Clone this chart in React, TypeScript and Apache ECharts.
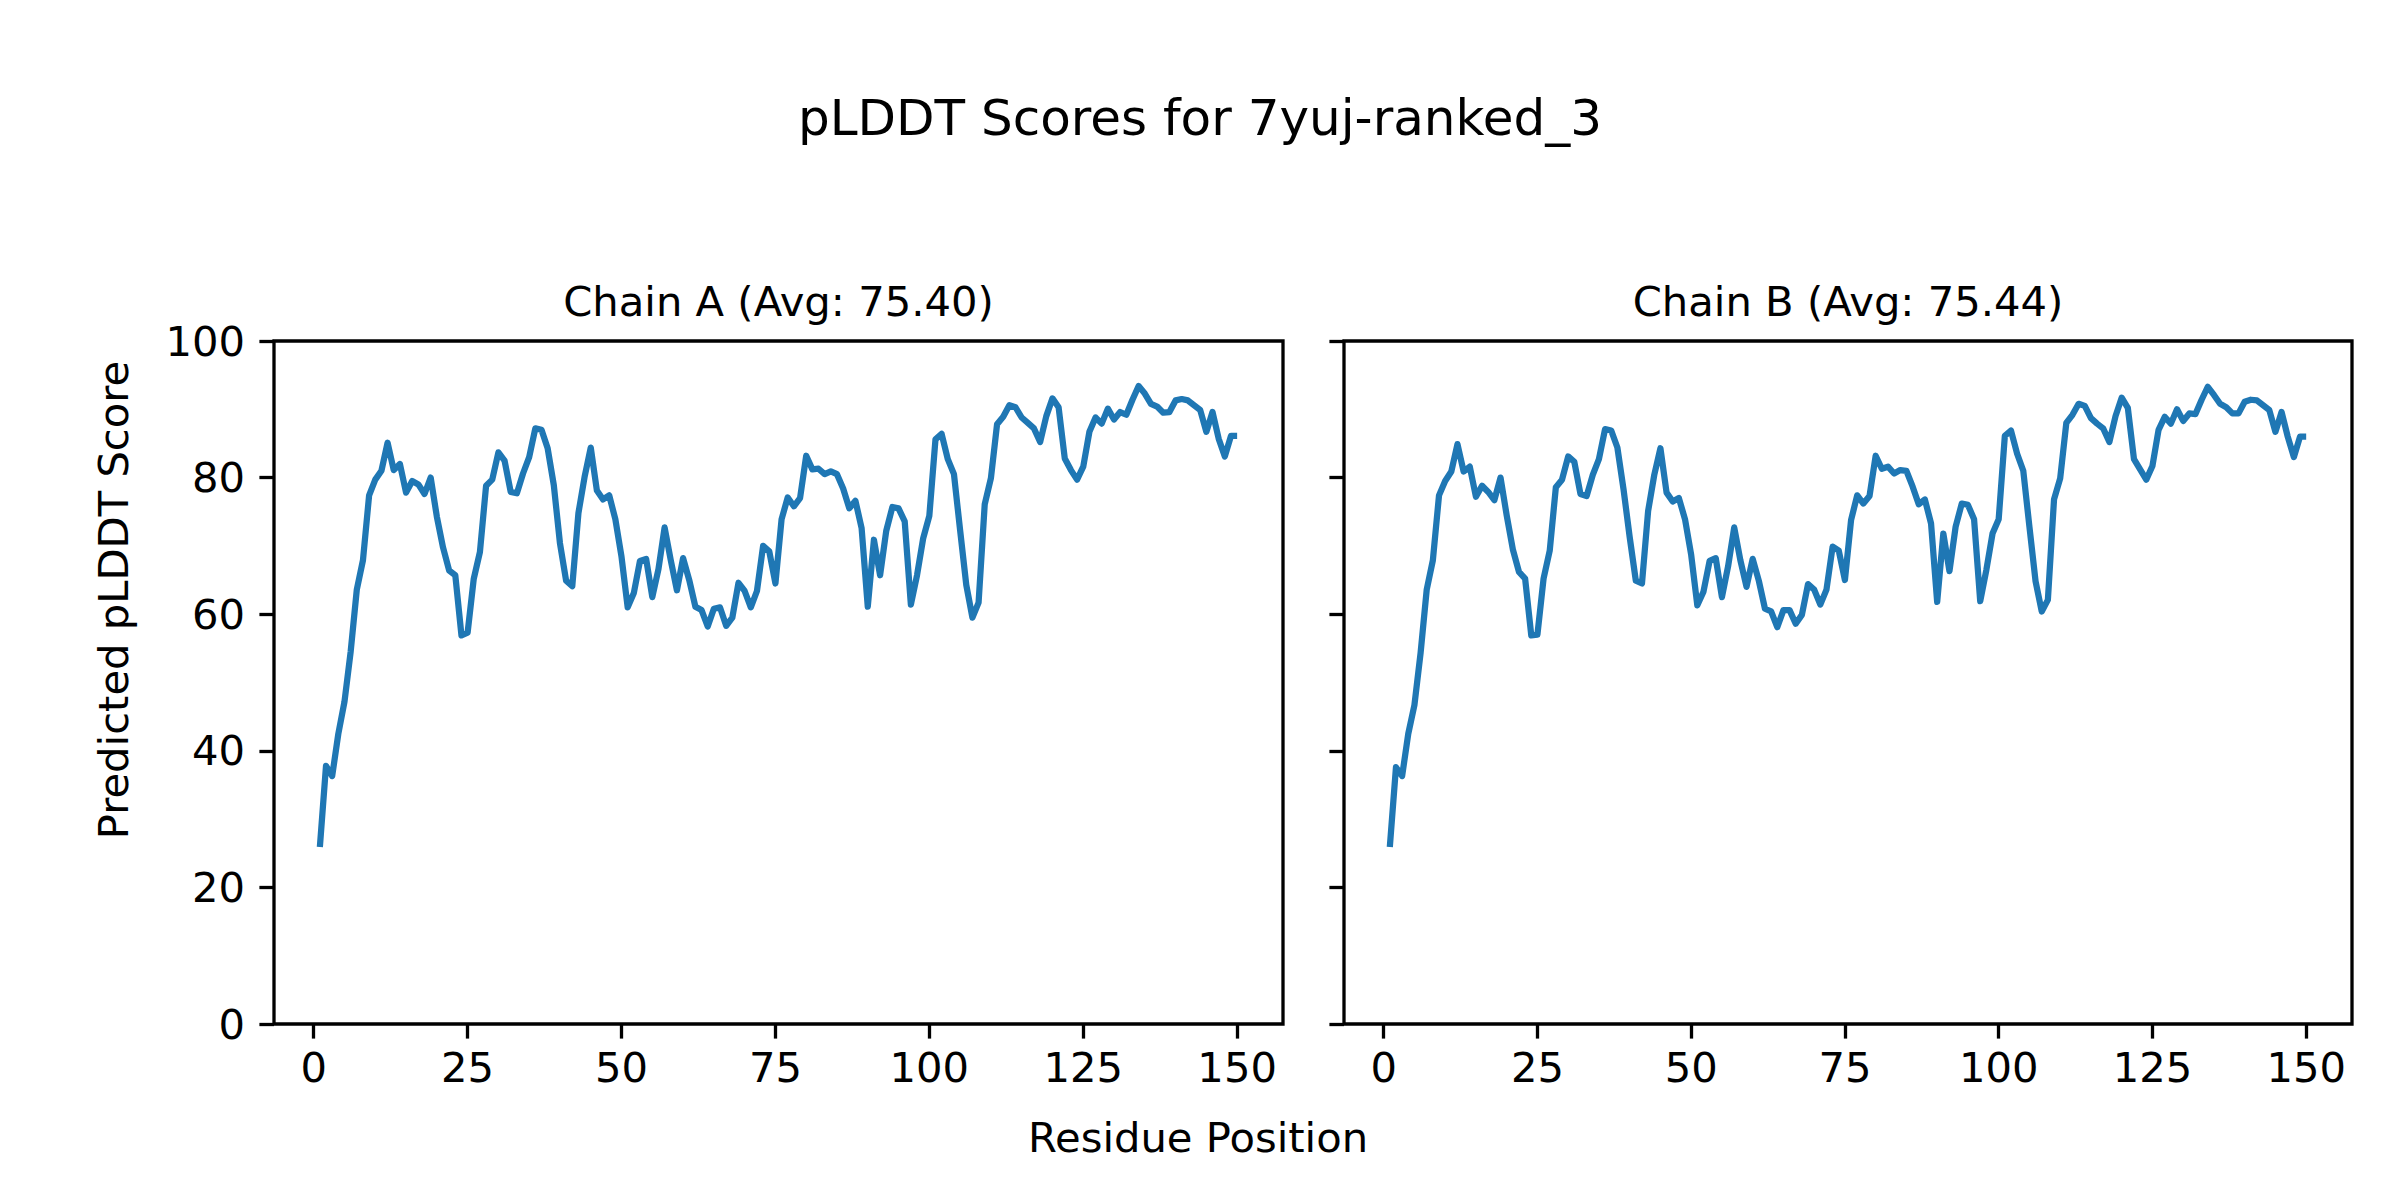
import React, { useEffect, useRef } from "react";
import * as echarts from "echarts";

const chartTitle = "pLDDT Scores for 7yuj-ranked_3";
const panelTitles = ["Chain A (Avg: 75.40)", "Chain B (Avg: 75.44)"];
const xLabel = "Residue Position";
const yLabel = "Predicted pLDDT Score";
const xTicks = [0, 25, 50, 75, 100, 125, 150];

const chainA = [
  25.9, 37.8, 36.3, 42.5, 47.2, 54.5, 63.6, 67.9, 77.4, 79.7,
  81.0, 85.1, 81.1, 82.0, 77.8, 79.5, 79.0, 77.6, 80.0, 74.3,
  69.8, 66.4, 65.7, 56.9, 57.3, 65.2, 69.1, 78.8, 79.7, 83.7,
  82.5, 77.9, 77.7, 80.6, 83.0, 87.2, 87.0, 84.3, 78.9, 70.4,
  64.9, 64.1, 74.8, 80.1, 84.4, 78.1, 76.8, 77.4, 73.9, 68.4,
  61.0, 63.1, 67.8, 68.1, 62.5, 66.6, 72.7, 67.9, 63.5, 68.2,
  65.0, 61.1, 60.6, 58.2, 60.8, 61.0, 58.3, 59.5, 64.6, 63.4,
  61.0, 63.4, 70.0, 69.2, 64.5, 73.9, 77.1, 75.8, 77.0, 83.2,
  81.2, 81.3, 80.5, 80.9, 80.5, 78.4, 75.5, 76.6, 72.6, 61.1,
  70.9, 65.7, 72.2, 75.7, 75.5, 73.6, 61.4, 65.7, 71.1, 74.4,
  85.6, 86.4, 82.7, 80.5, 72.3, 64.3, 59.5, 61.7, 76.1, 79.9,
  87.8, 88.9, 90.6, 90.3, 88.8, 88.0, 87.2, 85.2, 89.0, 91.6,
  90.3, 82.8, 81.1, 79.7, 81.6, 86.7, 88.8, 87.9, 90.1, 88.5,
  89.6, 89.2, 91.4, 93.4, 92.3, 90.8, 90.4, 89.5, 89.6, 91.3,
  91.5, 91.3, 90.6, 89.9, 86.7, 89.6, 85.7, 83.1, 86.1, 86.1,
];

const chainB = [
  25.9, 37.6, 36.3, 42.5, 46.7, 54.3, 63.6, 67.9, 77.4, 79.5,
  80.9, 84.9, 80.9, 81.6, 77.2, 78.8, 77.9, 76.7, 80.0, 74.5,
  69.5, 66.2, 65.2, 56.9, 57.0, 65.2, 69.3, 78.6, 79.7, 83.1,
  82.3, 77.6, 77.3, 80.4, 82.7, 87.1, 86.9, 84.4, 78.3, 71.3,
  64.9, 64.5, 75.1, 80.4, 84.3, 77.8, 76.5, 77.0, 73.9, 68.7,
  61.3, 63.3, 67.8, 68.2, 62.5, 67.0, 72.7, 67.9, 64.0, 68.1,
  64.9, 60.8, 60.4, 58.1, 60.6, 60.6, 58.6, 59.9, 64.4, 63.6,
  61.4, 63.6, 69.9, 69.3, 65.0, 73.8, 77.4, 76.2, 77.3, 83.2,
  81.3, 81.6, 80.6, 81.1, 81.0, 78.7, 76.1, 76.8, 73.3, 61.8,
  71.8, 66.3, 72.8, 76.2, 76.0, 73.9, 61.9, 66.5, 71.8, 73.9,
  86.1, 86.9, 83.5, 81.0, 72.8, 64.8, 60.4, 62.1, 76.8, 79.9,
  88.0, 89.2, 90.8, 90.5, 88.7, 87.9, 87.2, 85.2, 89.0, 91.7,
  90.2, 82.7, 81.2, 79.7, 81.7, 87.0, 88.9, 87.9, 90.0, 88.3,
  89.4, 89.3, 91.4, 93.3, 92.1, 90.8, 90.3, 89.4, 89.4, 91.1,
  91.4, 91.3, 90.6, 89.9, 86.7, 89.6, 86.0, 83.0, 86.0, 86.0,
];

const FONT = "DejaVu Sans";
const LINE = "#1f77b4";

export default function App() {
  const ref = useRef<HTMLDivElement>(null);

  useEffect(() => {
    if (!ref.current) return;
    const chart = echarts.init(ref.current, null, { renderer: "svg" });

    const grids = [
      { left: 274, top: 341, width: 1009, height: 683 },
      { left: 1344, top: 341, width: 1008, height: 683 },
    ];
    const n = chainA.length;
    const xmin = 1 - 0.05 * (n - 1);
    const xmax = n + 0.05 * (n - 1);

    const xAxes = grids.map((_, i) => ({
      type: "value",
      gridIndex: i,
      min: xmin,
      max: xmax,
      position: "bottom",
      splitLine: { show: false },
      axisLine: { show: false, onZero: false },
      axisTick: {
        show: true,
        customValues: xTicks,
        length: 14.6,
        lineStyle: { color: "#000", width: 3.3 },
      },
      axisLabel: {
        show: true,
        customValues: xTicks,
        margin: 22,
        fontFamily: FONT,
        fontSize: 41.7,
        color: "#000",
      },
    }));

    const yAxes = grids.map((_, i) => ({
      type: "value",
      gridIndex: i,
      min: 0,
      max: 100,
      interval: 20,
      position: "left",
      splitLine: { show: false },
      axisLine: { show: false, onZero: false },
      axisTick: {
        show: true,
        length: 14.6,
        lineStyle: { color: "#000", width: 3.3 },
      },
      axisLabel: {
        show: i === 0,
        margin: 29,
        fontFamily: FONT,
        fontSize: 41.7,
        color: "#000",
      },
    }));

    const toPts = (arr: number[]) => arr.map((v, k) => [k + 1, v]);

    chart.setOption({
      animation: false,
      backgroundColor: "#fff",
      grid: grids.map((g) => ({
        ...g,
        show: true,
        borderColor: "#000",
        borderWidth: 3.3,
        backgroundColor: "transparent",
      })),
      xAxis: xAxes,
      yAxis: yAxes,
      series: [chainA, chainB].map((arr, i) => ({
        type: "line",
        xAxisIndex: i,
        yAxisIndex: i,
        data: toPts(arr),
        showSymbol: false,
        symbol: "none",
        lineStyle: { color: LINE, width: 6.25, join: "round", cap: "butt" },
        itemStyle: { color: LINE },
      })),
      graphic: [
        {
          type: "text",
          x: 1200,
          y: 118,
          style: {
            text: chartTitle,
            font: `50px "${FONT}"`,
            fill: "#000",
            align: "center",
            verticalAlign: "middle",
          },
        },
        ...panelTitles.map((t, i) => ({
          type: "text",
          x: grids[i].left + grids[i].width / 2,
          y: 301,
          style: {
            text: t,
            font: `41.7px "${FONT}"`,
            fill: "#000",
            align: "center",
            verticalAlign: "middle",
          },
        })),
        {
          type: "text",
          x: 1198,
          y: 1137,
          style: {
            text: xLabel,
            font: `41.7px "${FONT}"`,
            fill: "#000",
            align: "center",
            verticalAlign: "middle",
          },
        },
        {
          type: "text",
          x: 113,
          y: 600,
          rotation: Math.PI / 2,
          style: {
            text: yLabel,
            font: `41.7px "${FONT}"`,
            fill: "#000",
            align: "center",
            verticalAlign: "middle",
          },
        },
      ],
    });

    return () => chart.dispose();
  }, []);

  return (
    <div
      ref={ref}
      style={{ position: "absolute", left: 0, top: 0, width: 2400, height: 1200 }}
    />
  );
}
